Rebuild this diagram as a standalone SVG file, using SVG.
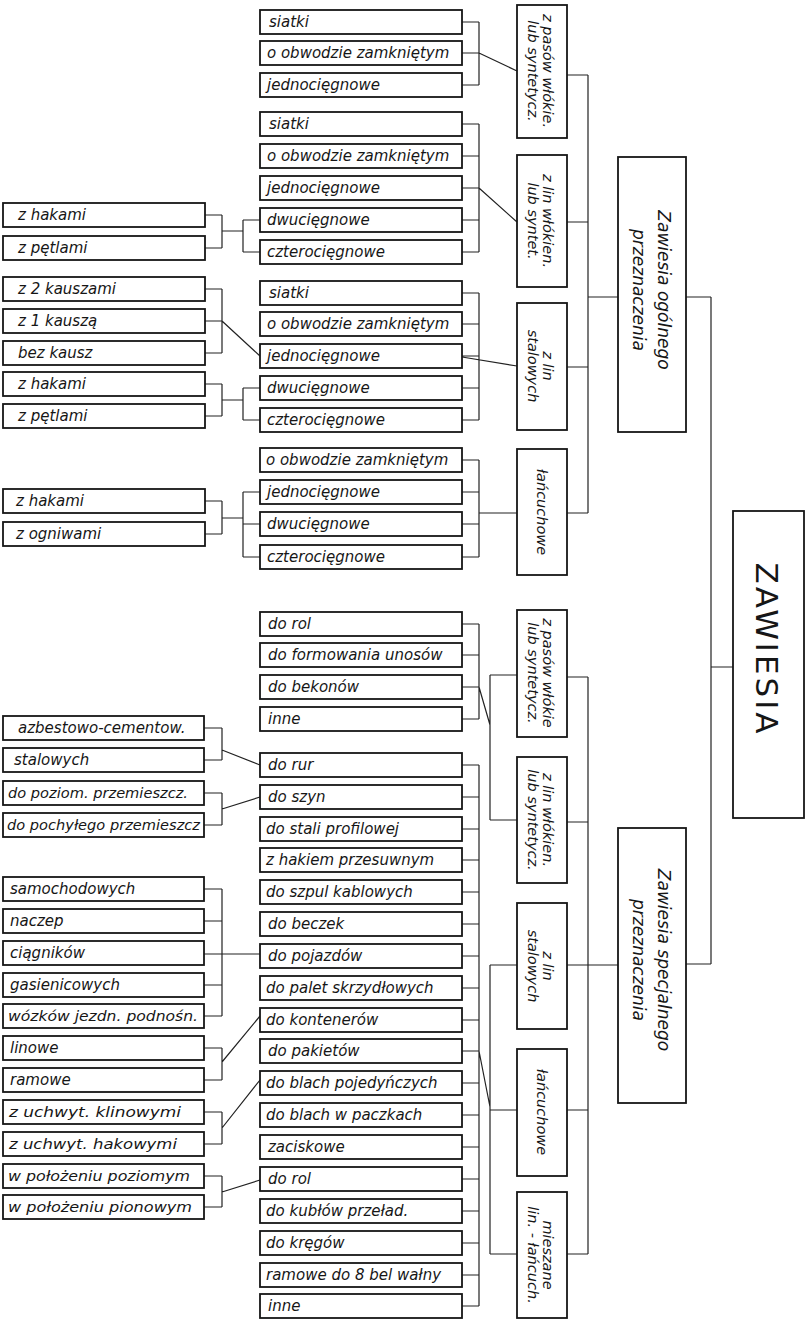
<svg xmlns="http://www.w3.org/2000/svg" width="811" height="1322" viewBox="0 0 811 1322">
<style>
.b{fill:#fff;stroke:#161616;stroke-width:1.8}
.t{font-family:"DejaVu Sans","Liberation Sans",sans-serif;font-style:italic;font-size:15px;fill:#161616}
.s{font-size:14px}
.m{font-size:14.5px;text-anchor:middle}
.big{font-size:17px;text-anchor:middle}
.c{fill:none;stroke:#222;stroke-width:1.2}
</style>
<rect width="811" height="1322" fill="#fff"/>
<g id="connectors" class="c">
<path d="M462 22H479M462 53H479M462 85H479M479 22V85M479 53L517 71"/>
<path d="M462 124H479M462 156H479M462 188H479M462 220H479M462 252H479M479 124V252M479 188L517 222"/>
<path d="M462 293H479M462 324H479M462 356H479M462 388H479M462 420H479M479 293V420M462 357L517 366"/>
<path d="M462 460H479M462 492H479M462 524H479M462 557H479M479 460V557M479 513H517"/>
<path d="M567 75H588M567 222H588M567 367H588M567 513H588M588 75V513M588 297H618M686 297H711M711 297V964M711 667H733M686 964H711"/>
<path d="M205 215H222M205 248H222M222 215V248M222 231H243M243 220V252M243 220H260M243 252H260"/>
<path d="M205 289H222M205 321H222M205 353H222M222 289V353M222 321L260 356"/>
<path d="M205 384H222M205 416H222M222 384V416M222 400H243M243 388V420M243 388H260M243 420H260"/>
<path d="M205 501H222M205 534H222M222 501V534M222 518H243M243 492V557M243 492H260M243 524H260M243 557H260"/>
<path d="M462 624H479M462 655H479M462 687H479M462 719H479M479 624V719M479 687L490 725M490 675V820M490 675H517M490 820H517"/>
<path d="M462 765H479M462 797H479M462 829H479M462 860H479M462 892H479M462 924H479M462 956H479M462 988H479M462 1020H479M462 1051H479M462 1083H479M462 1115H479M462 1147H479M462 1179H479M462 1211H479M462 1243H479M462 1275H479M462 1306H479M479 765V1306M479 1051L490 1107M490 965V1254M490 965H517M490 1110H517M490 1254H517"/>
<path d="M567 677H588M567 822H588M567 965H618M567 1110H588M567 1254H588M588 677V1254"/>
<path d="M204 728H222M204 760H222M222 728V760M222 750L260 765"/>
<path d="M204 793H222M204 825H222M222 793V825M222 809L260 797"/>
<path d="M204 889H222M204 921H222M204 985H222M204 1016H222M222 889V1016M204 954H260"/>
<path d="M204 1048H222M204 1080H222M222 1048V1080M222 1062L260 1016"/>
<path d="M204 1112H222M204 1144H222M222 1112V1144M222 1128L260 1080"/>
<path d="M204 1176H222M204 1207H222M222 1176V1207M222 1192L260 1180"/>
</g>
<g id="root"><rect class="b" x="733" y="511" width="71" height="307"/><text transform="translate(767,648) rotate(90)" style="font-family:'DejaVu Sans',sans-serif;font-size:31px;fill:#161616" text-anchor="middle" y="11" textLength="171" lengthAdjust="spacing">ZAWIESIA</text></g>
<g id="ogolne"><rect class="b" x="618" y="157" width="68" height="275"/><text class="t big" transform="translate(652,290) rotate(90)"><tspan x="0" y="-6">Zawiesia ogólnego</tspan><tspan x="0" y="19">przeznaczenia</tspan></text></g>
<g id="specjalne"><rect class="b" x="618" y="828" width="68" height="275"/><text class="t big" transform="translate(652,960) rotate(90)"><tspan x="0" y="-6">Zawiesia specjalnego</tspan><tspan x="0" y="19">przeznaczenia</tspan></text></g>
<g id="o1"><rect class="b" x="517" y="5" width="50" height="133"/><text class="t m" transform="translate(542,71) rotate(90)"><tspan x="0" y="-1">z pasów włókie.</tspan><tspan x="0" y="14">lub syntetycz.</tspan></text></g>
<g id="o2"><rect class="b" x="517" y="155" width="50" height="132"/><text class="t m" transform="translate(542,221) rotate(90)"><tspan x="0" y="-1">z lin włókien.</tspan><tspan x="0" y="14">lub syntet.</tspan></text></g>
<g id="o3"><rect class="b" x="517" y="303" width="50" height="127"/><text class="t m" transform="translate(542,366) rotate(90)"><tspan x="0" y="-1">z lin</tspan><tspan x="0" y="14">stalowych</tspan></text></g>
<g id="o4"><rect class="b" x="517" y="449" width="50" height="126"/><text class="t m" transform="translate(542,512) rotate(90)" y="5">łańcuchowe</text></g>
<g id="s1"><rect class="b" x="517" y="610" width="50" height="127"/><text class="t m" transform="translate(542,673) rotate(90)"><tspan x="0" y="-1">z pasów włókie</tspan><tspan x="0" y="14">lub syntetycz.</tspan></text></g>
<g id="s2"><rect class="b" x="517" y="757" width="50" height="126"/><text class="t m" transform="translate(542,820) rotate(90)"><tspan x="0" y="-1">z lin włókien.</tspan><tspan x="0" y="14">lub syntetycz.</tspan></text></g>
<g id="s3"><rect class="b" x="517" y="903" width="50" height="126"/><text class="t m" transform="translate(542,966) rotate(90)"><tspan x="0" y="-1">z lin</tspan><tspan x="0" y="14">stalowych</tspan></text></g>
<g id="s4"><rect class="b" x="517" y="1049" width="50" height="127"/><text class="t m" transform="translate(542,1112) rotate(90)" y="5">łańcuchowe</text></g>
<g id="s5"><rect class="b" x="517" y="1192" width="50" height="126"/><text class="t m" transform="translate(542,1255) rotate(90)"><tspan x="0" y="-1">mieszane</tspan><tspan x="0" y="14">lin. - łańcuch.</tspan></text></g>
<g id="n1"><rect class="b" x="260" y="10" width="202" height="24"/><text class="t" x="269" y="27">siatki</text></g>
<g id="n2"><rect class="b" x="260" y="41" width="202" height="24"/><text class="t" x="267" y="58">o obwodzie zamkniętym</text></g>
<g id="n3"><rect class="b" x="260" y="73" width="202" height="24"/><text class="t" x="267" y="90">jednocięgnowe</text></g>
<g id="n4"><rect class="b" x="260" y="112" width="202" height="24"/><text class="t" x="269" y="129">siatki</text></g>
<g id="n5"><rect class="b" x="260" y="144" width="202" height="24"/><text class="t" x="267" y="161">o obwodzie zamkniętym</text></g>
<g id="n6"><rect class="b" x="260" y="176" width="202" height="24"/><text class="t" x="267" y="193">jednocięgnowe</text></g>
<g id="n7"><rect class="b" x="260" y="208" width="202" height="24"/><text class="t" x="267" y="225">dwucięgnowe</text></g>
<g id="n8"><rect class="b" x="260" y="240" width="202" height="24"/><text class="t" x="267" y="257">czterocięgnowe</text></g>
<g id="n9"><rect class="b" x="260" y="281" width="202" height="24"/><text class="t" x="269" y="298">siatki</text></g>
<g id="n10"><rect class="b" x="260" y="312" width="202" height="24"/><text class="t" x="267" y="329">o obwodzie zamkniętym</text></g>
<g id="n11"><rect class="b" x="260" y="344" width="202" height="24"/><text class="t" x="267" y="361">jednocięgnowe</text></g>
<g id="n12"><rect class="b" x="260" y="376" width="202" height="24"/><text class="t" x="267" y="393">dwucięgnowe</text></g>
<g id="n13"><rect class="b" x="260" y="408" width="202" height="24"/><text class="t" x="267" y="425">czterocięgnowe</text></g>
<g id="n14"><rect class="b" x="260" y="448" width="202" height="24"/><text class="t" x="266" y="465">o obwodzie zamkniętym</text></g>
<g id="n15"><rect class="b" x="260" y="480" width="202" height="24"/><text class="t" x="267" y="497">jednocięgnowe</text></g>
<g id="n16"><rect class="b" x="260" y="512" width="202" height="24"/><text class="t" x="267" y="529">dwucięgnowe</text></g>
<g id="n17"><rect class="b" x="260" y="545" width="202" height="24"/><text class="t" x="267" y="562">czterocięgnowe</text></g>
<g id="l1"><rect class="b" x="3" y="203" width="202" height="24"/><text class="t" x="18" y="220">z hakami</text></g>
<g id="l2"><rect class="b" x="3" y="236" width="202" height="24"/><text class="t" x="18" y="253">z pętlami</text></g>
<g id="l3"><rect class="b" x="3" y="277" width="202" height="24"/><text class="t" x="18" y="294">z 2 kauszami</text></g>
<g id="l4"><rect class="b" x="3" y="309" width="202" height="24"/><text class="t" x="18" y="326">z 1 kauszą</text></g>
<g id="l5"><rect class="b" x="3" y="341" width="202" height="24"/><text class="t" x="18" y="358">bez kausz</text></g>
<g id="l6"><rect class="b" x="3" y="372" width="202" height="24"/><text class="t" x="18" y="389">z hakami</text></g>
<g id="l7"><rect class="b" x="3" y="404" width="202" height="24"/><text class="t" x="18" y="421">z pętlami</text></g>
<g id="l8"><rect class="b" x="3" y="489" width="202" height="24"/><text class="t" x="16" y="506">z hakami</text></g>
<g id="l9"><rect class="b" x="3" y="522" width="202" height="24"/><text class="t" x="16" y="539">z ogniwami</text></g>
<g id="a1"><rect class="b" x="260" y="612" width="202" height="24"/><text class="t" x="268" y="629">do rol</text></g>
<g id="a2"><rect class="b" x="260" y="643" width="202" height="24"/><text class="t" x="268" y="660">do formowania unosów</text></g>
<g id="a3"><rect class="b" x="260" y="675" width="202" height="24"/><text class="t" x="268" y="692">do bekonów</text></g>
<g id="a4"><rect class="b" x="260" y="707" width="202" height="24"/><text class="t" x="268" y="724">inne</text></g>
<g id="b1"><rect class="b" x="260" y="753" width="202" height="24"/><text class="t" x="268" y="770">do rur</text></g>
<g id="b2"><rect class="b" x="260" y="785" width="202" height="24"/><text class="t" x="268" y="802">do szyn</text></g>
<g id="b3"><rect class="b" x="260" y="817" width="202" height="24"/><text class="t" x="266" y="834">do stali profilowej</text></g>
<g id="b4"><rect class="b" x="260" y="848" width="202" height="24"/><text class="t" x="266" y="865">z hakiem przesuwnym</text></g>
<g id="b5"><rect class="b" x="260" y="880" width="202" height="24"/><text class="t" x="266" y="897">do szpul kablowych</text></g>
<g id="b6"><rect class="b" x="260" y="912" width="202" height="24"/><text class="t" x="268" y="929">do beczek</text></g>
<g id="b7"><rect class="b" x="260" y="944" width="202" height="24"/><text class="t" x="268" y="961">do pojazdów</text></g>
<g id="b8"><rect class="b" x="260" y="976" width="202" height="24"/><text class="t" x="266" y="993">do palet skrzydłowych</text></g>
<g id="b9"><rect class="b" x="260" y="1008" width="202" height="24"/><text class="t" x="266" y="1025">do kontenerów</text></g>
<g id="b10"><rect class="b" x="260" y="1039" width="202" height="24"/><text class="t" x="268" y="1056">do pakietów</text></g>
<g id="b11"><rect class="b" x="260" y="1071" width="202" height="24"/><text class="t" x="266" y="1088">do blach pojedyńczych</text></g>
<g id="b12"><rect class="b" x="260" y="1103" width="202" height="24"/><text class="t" x="266" y="1120">do blach w paczkach</text></g>
<g id="b13"><rect class="b" x="260" y="1135" width="202" height="24"/><text class="t" x="268" y="1152">zaciskowe</text></g>
<g id="b14"><rect class="b" x="260" y="1167" width="202" height="24"/><text class="t" x="268" y="1184">do rol</text></g>
<g id="b15"><rect class="b" x="260" y="1199" width="202" height="24"/><text class="t" x="266" y="1216">do kubłów przeład.</text></g>
<g id="b16"><rect class="b" x="260" y="1231" width="202" height="24"/><text class="t" x="266" y="1248">do kręgów</text></g>
<g id="b17"><rect class="b" x="260" y="1263" width="202" height="24"/><text class="t" x="266" y="1280">ramowe do 8 bel wałny</text></g>
<g id="b18"><rect class="b" x="260" y="1294" width="202" height="24"/><text class="t" x="268" y="1311">inne</text></g>
<g id="c1"><rect class="b" x="3" y="716" width="201" height="24"/><text class="t" x="18" y="733">azbestowo-cementow.</text></g>
<g id="c2"><rect class="b" x="3" y="748" width="201" height="24"/><text class="t" x="14" y="765">stalowych</text></g>
<g id="c3"><rect class="b" x="3" y="781" width="201" height="24"/><text class="t s" x="8" y="798" textLength="180" lengthAdjust="spacingAndGlyphs">do poziom. przemieszcz.</text></g>
<g id="c4"><rect class="b" x="3" y="813" width="201" height="24"/><text class="t s" x="7" y="830" textLength="193" lengthAdjust="spacingAndGlyphs">do pochyłego przemieszcz</text></g>
<g id="c5"><rect class="b" x="3" y="877" width="201" height="24"/><text class="t" x="10" y="894">samochodowych</text></g>
<g id="c6"><rect class="b" x="3" y="909" width="201" height="24"/><text class="t" x="10" y="926">naczep</text></g>
<g id="c7"><rect class="b" x="3" y="941" width="201" height="24"/><text class="t" x="10" y="958">ciągników</text></g>
<g id="c8"><rect class="b" x="3" y="973" width="201" height="24"/><text class="t" x="10" y="990">gasienicowych</text></g>
<g id="c9"><rect class="b" x="3" y="1004" width="201" height="24"/><text class="t s" x="8" y="1021" textLength="190" lengthAdjust="spacingAndGlyphs">wózków jezdn. podnośn.</text></g>
<g id="c10"><rect class="b" x="3" y="1036" width="201" height="24"/><text class="t" x="10" y="1053">linowe</text></g>
<g id="c11"><rect class="b" x="3" y="1068" width="201" height="24"/><text class="t" x="10" y="1085">ramowe</text></g>
<g id="c12"><rect class="b" x="3" y="1100" width="201" height="24"/><text class="t s" x="9" y="1117" textLength="172" lengthAdjust="spacingAndGlyphs">z uchwyt. klinowymi</text></g>
<g id="c13"><rect class="b" x="3" y="1132" width="201" height="24"/><text class="t s" x="9" y="1149" textLength="168" lengthAdjust="spacingAndGlyphs">z uchwyt. hakowymi</text></g>
<g id="c14"><rect class="b" x="3" y="1164" width="201" height="24"/><text class="t s" x="8" y="1181" textLength="182" lengthAdjust="spacingAndGlyphs">w położeniu poziomym</text></g>
<g id="c15"><rect class="b" x="3" y="1195" width="201" height="24"/><text class="t s" x="8" y="1212" textLength="184" lengthAdjust="spacingAndGlyphs">w położeniu pionowym</text></g>
</svg>
